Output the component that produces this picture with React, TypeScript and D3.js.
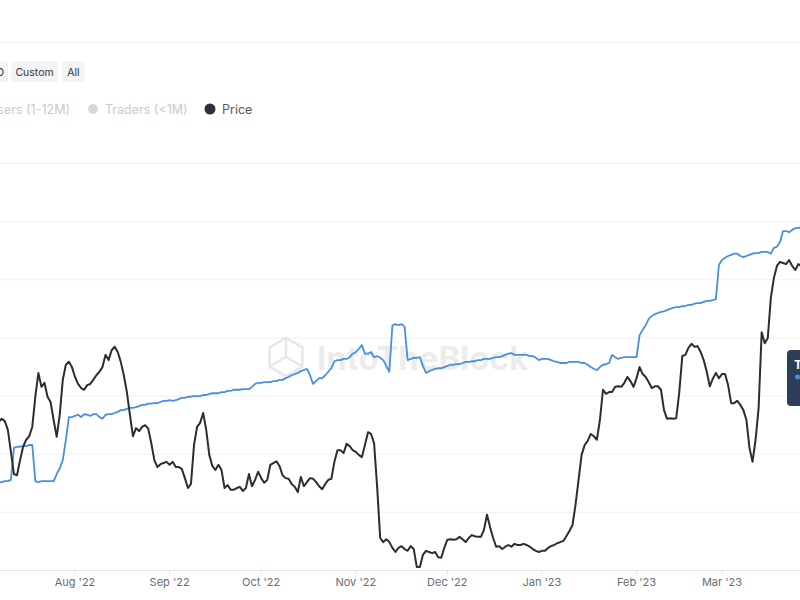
import React from "react";
import * as d3 from "d3";

// Daily series, starting at this date (UTC)
const startDate = "2022-07-07";

// Hodlers balance (blue line), daily
const hodlersBalance = [
  1.51, 1.51, 1.53, 1.53, 1.55, 2.10, 2.12, 2.12, 2.13, 2.13, 2.15, 2.15, 1.53, 1.51, 1.53, 1.53, 1.53, 1.53, 1.53, 1.65, 1.75, 1.89, 2.24, 2.63, 2.63,
  2.65, 2.67, 2.63, 2.68, 2.67, 2.65, 2.68, 2.68, 2.63, 2.60, 2.67, 2.68, 2.68, 2.70, 2.72, 2.75, 2.75, 2.77, 2.79, 2.79, 2.80, 2.82, 2.84, 2.84, 2.86, 2.86, 2.87, 2.87, 2.89, 2.91, 2.91,
  2.92, 2.91, 2.92, 2.94, 2.96, 2.96, 2.98, 2.98, 2.99, 2.99, 2.99, 3.01, 3.01, 3.03, 3.04, 3.04, 3.04, 3.06, 3.06, 3.08, 3.08, 3.10, 3.10, 3.10, 3.11, 3.11, 3.11, 3.15, 3.20, 3.22,
  3.22, 3.23, 3.23, 3.23, 3.25, 3.25, 3.27, 3.27, 3.30, 3.32, 3.35, 3.37, 3.39, 3.42, 3.44, 3.46, 3.35, 3.20, 3.25, 3.30, 3.30, 3.35, 3.41, 3.47, 3.59, 3.61, 3.61, 3.63, 3.63, 3.66, 3.72,
  3.75, 3.80, 3.87, 3.72, 3.72, 3.75, 3.66, 3.68, 3.65, 3.61, 3.51, 3.41, 4.21, 4.23, 4.21, 4.23, 4.18, 3.61, 3.63, 3.65, 3.65, 3.66, 3.51, 3.39, 3.42, 3.44, 3.46, 3.47, 3.47, 3.49,
  3.51, 3.53, 3.53, 3.54, 3.54, 3.56, 3.58, 3.58, 3.59, 3.59, 3.61, 3.61, 3.63, 3.63, 3.63, 3.65, 3.66, 3.66, 3.68, 3.70, 3.72, 3.73, 3.70, 3.70, 3.70, 3.70, 3.70, 3.68, 3.68, 3.65, 3.61,
  3.63, 3.63, 3.63, 3.61, 3.59, 3.58, 3.56, 3.56, 3.56, 3.58, 3.58, 3.58, 3.58, 3.56, 3.56, 3.53, 3.49, 3.46, 3.44, 3.49, 3.53, 3.54, 3.56, 3.70, 3.66, 3.63, 3.65, 3.66, 3.66, 3.66, 3.66,
  3.66, 4.04, 4.13, 4.21, 4.32, 4.37, 4.40, 4.42, 4.44, 4.45, 4.47, 4.49, 4.51, 4.52, 4.52, 4.54, 4.54, 4.56, 4.56, 4.58, 4.59, 4.59, 4.61, 4.63, 4.63, 4.64, 4.66, 5.25,
  5.33, 5.37, 5.40, 5.42, 5.44, 5.44, 5.40, 5.38, 5.40, 5.42, 5.44, 5.45, 5.45, 5.47, 5.47, 5.47, 5.44, 5.54, 5.56, 5.64, 5.83, 5.83, 5.81, 5.85, 5.88, 5.88, 5.90,
];

// Price (dark line), daily
const price = [
  2.55, 2.60, 2.56, 2.41, 2.03, 1.65, 1.63, 1.89, 2.12, 2.24, 2.30, 2.46, 2.98, 3.39, 3.15, 3.22, 2.98, 2.89, 2.58, 2.29, 2.67, 3.27, 3.53, 3.58, 3.49,
  3.32, 3.20, 3.13, 3.10, 3.18, 3.20, 3.27, 3.35, 3.41, 3.49, 3.70, 3.61, 3.78, 3.84, 3.75, 3.58, 3.35, 3.06, 2.67, 2.30, 2.44, 2.39, 2.46, 2.49, 2.43, 2.18, 1.89, 1.77, 1.82, 1.84, 1.86,
  1.81, 1.86, 1.77, 1.77, 1.74, 1.58, 1.41, 1.48, 2.15, 2.46, 2.53, 2.70, 2.41, 1.98, 1.79, 1.72, 1.81, 1.72, 1.41, 1.46, 1.38, 1.38, 1.41, 1.43, 1.36, 1.41, 1.65, 1.44, 1.55, 1.69,
  1.58, 1.50, 1.55, 1.81, 1.84, 1.87, 1.79, 1.63, 1.58, 1.57, 1.48, 1.43, 1.34, 1.60, 1.44, 1.51, 1.58, 1.57, 1.51, 1.44, 1.39, 1.48, 1.55, 1.57, 1.86, 2.06, 2.06, 2.01, 2.17, 2.13, 2.06,
  2.03, 1.98, 1.94, 2.15, 2.37, 2.34, 2.18, 1.43, 0.55, 0.48, 0.53, 0.48, 0.38, 0.31, 0.38, 0.41, 0.36, 0.33, 0.41, 0.36, 0.05, 0.05, 0.26, 0.33, 0.31, 0.29, 0.31, 0.22, 0.21, 0.38,
  0.52, 0.53, 0.52, 0.53, 0.57, 0.53, 0.48, 0.55, 0.60, 0.58, 0.57, 0.57, 0.69, 0.95, 0.74, 0.55, 0.40, 0.41, 0.36, 0.40, 0.43, 0.40, 0.45, 0.43, 0.43, 0.45, 0.43, 0.40, 0.36, 0.33, 0.31,
  0.33, 0.33, 0.38, 0.41, 0.43, 0.46, 0.48, 0.50, 0.58, 0.67, 0.77, 1.12, 1.55, 1.98, 2.15, 2.22, 2.34, 2.30, 2.24, 2.58, 3.10, 3.03, 3.06, 3.06, 3.15, 3.16, 3.15, 3.22, 3.32, 3.25, 3.15,
  3.30, 3.49, 3.37, 3.32, 3.23, 3.13, 3.16, 3.16, 3.10, 2.75, 2.60, 2.61, 2.60, 2.61, 3.06, 3.68, 3.70, 3.82, 3.89, 3.84, 3.85, 3.75, 3.61, 3.41, 3.16, 3.29, 3.39, 3.30,
  3.37, 3.37, 3.18, 2.87, 2.87, 2.91, 2.84, 2.75, 2.58, 2.10, 1.86, 2.24, 2.79, 4.09, 3.90, 3.99, 4.68, 5.02, 5.23, 5.30, 5.28, 5.26, 5.33, 5.23, 5.16, 5.26, 5.23,
];

const monthTicks = ["2022-08-01", "2022-09-01", "2022-10-01", "2022-11-01", "2022-12-01", "2023-01-01", "2023-02-01", "2023-03-01"];
const gridValues = [1, 2, 3, 4, 5, 6, 7];
const rangeButtons = ["YTD", "Custom", "All"];
const legendLabels = ["Cruisers (1-12M)", "Traders (<1M)", "Price"];

const FONT = "Inter, 'Noto Sans', Roboto, sans-serif";

export default function App() {
  const start = new Date(startDate + "T00:00:00Z");
  const x = d3
    .scaleUtc()
    .domain([new Date("2022-08-01T00:00:00Z"), new Date("2023-03-01T00:00:00Z")])
    .range([75, 722]);
  const y = d3.scaleLinear().domain([0, 7]).range([570, 163]);

  const line = d3
    .line<number>()
    .x((_, i) => x(d3.utcDay.offset(start, i)))
    .y((v) => y(v));

  const fmt = d3.utcFormat("%b '%y");

  // hexagon logo points
  const hex = d3.range(6).map((k) => {
    const a = (Math.PI / 3) * k - Math.PI / 2;
    return [286 + 19 * Math.cos(a), 357 + 19 * Math.sin(a)];
  });

  return (
    <svg
      width={800}
      height={600}
      style={{ position: "fixed", left: 0, top: 0, background: "#fff", fontFamily: FONT }}
    >
      <rect width={800} height={600} fill="#ffffff" />
      <line x1={0} x2={800} y1={42.5} y2={42.5} stroke="#efeff1" />

      {/* range buttons */}
      <g fontSize={10.5} fill="#333">
        <rect x={-32} y={61} width={40} height={21} rx={3} fill="#f4f4f6" />
        <text x={4} y={75.5} textAnchor="end">{rangeButtons[0]}</text>
        <rect x={11} y={61} width={47} height={21} rx={3} fill="#f4f4f6" />
        <text x={34.5} y={75.5} textAnchor="middle">{rangeButtons[1]}</text>
        <rect x={62} y={61} width={23} height={21} rx={3} fill="#f4f4f6" />
        <text x={73.5} y={75.5} textAnchor="middle">{rangeButtons[2]}</text>
      </g>

      {/* legend */}
      <g fontSize={12.5}>
        <text x={70} y={113.5} textAnchor="end" fill="#cacaca">{legendLabels[0]}</text>
        <circle cx={93} cy={109} r={5} fill="#d8d8d8" />
        <text x={105} y={113.5} fill="#cacaca">{legendLabels[1]}</text>
        <circle cx={210} cy={109} r={5.5} fill="#2f3136" />
        <text x={222} y={113.5} fill="#5a5a5e">{legendLabels[2]}</text>
      </g>

      {/* grid */}
      {gridValues.map((g) => (
        <line key={g} x1={0} x2={800} y1={y(g) + 0.5} y2={y(g) + 0.5} stroke="#f1f1f3" />
      ))}
      <line x1={0} x2={800} y1={y(0) + 0.5} y2={y(0) + 0.5} stroke="#dde2ec" />

      {/* watermark */}
      <g opacity={0.09} stroke="#000" fill="none" strokeWidth={2.5}>
        <polygon points={hex.map((p) => p.join(",")).join(" ")} />
        <line x1={286} y1={357} x2={286} y2={338} />
        <line x1={286} y1={357} x2={269.5} y2={366.5} />
        <line x1={286} y1={357} x2={302.5} y2={366.5} />
      </g>
      <text x={317} y={370} fontSize={33} fontWeight={700} fill="#000" opacity={0.07}>
        IntoTheBlock
      </text>

      {/* x axis */}
      {monthTicks.map((t) => {
        const d = new Date(t + "T00:00:00Z");
        const xx = x(d);
        return (
          <g key={t}>
            <line x1={xx} x2={xx} y1={570} y2={575} stroke="#dde2ec" />
            <text x={xx} y={586} textAnchor="middle" fontSize={11} fill="#6b6b70">
              {fmt(d)}
            </text>
          </g>
        );
      })}

      <defs>
        <clipPath id="plot">
          <rect x={0} y={140} width={800} height={432} />
        </clipPath>
      </defs>
      <g clipPath="url(#plot)" fill="none" strokeLinejoin="round">
        <path d={line(hodlersBalance) || ""} stroke="#4a8fdc" strokeWidth={1.8} />
        <path d={line(price) || ""} stroke="#2b2d33" strokeWidth={2} />
      </g>

      {/* tooltip edge */}
      <rect x={787} y={350} width={40} height={56} rx={4} fill="#2f3e58" />
      <text x={794} y={369} fontSize={12} fontWeight={700} fill="#fff">T</text>
      <circle cx={797.5} cy={377} r={2.5} fill="#4a8fdc" />
    </svg>
  );
}
